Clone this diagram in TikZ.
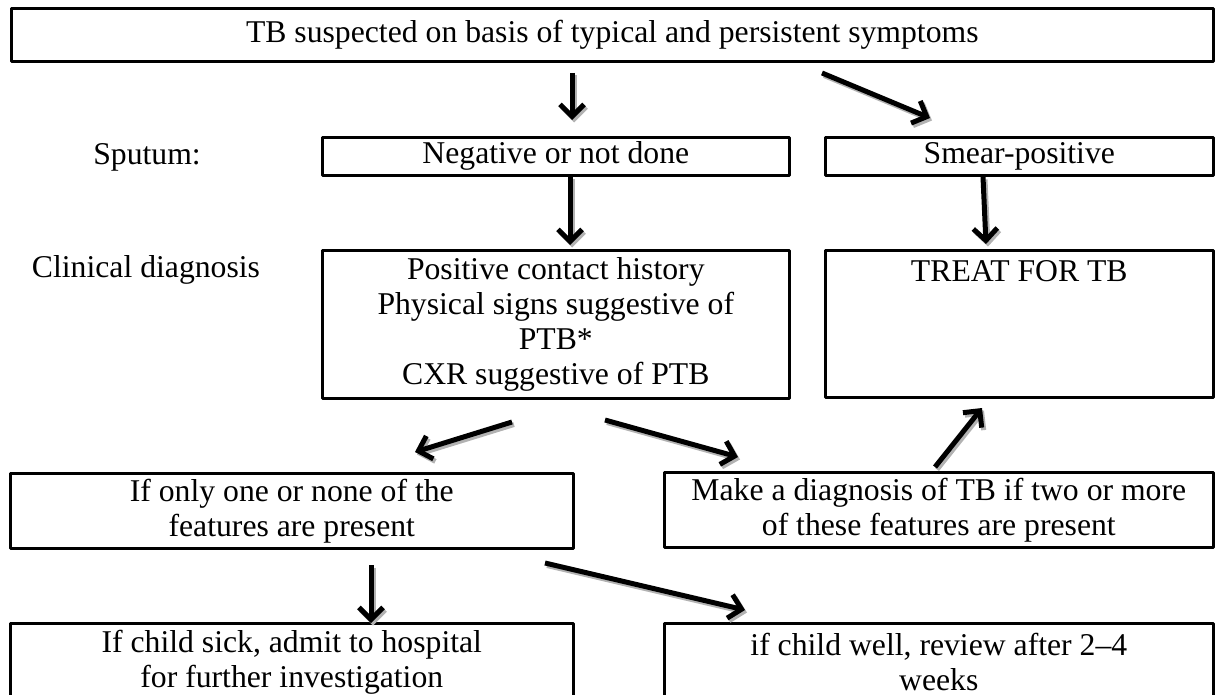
\documentclass[tikz,border=0pt]{standalone}
\usepackage{fontspec}
\setmainfont{Liberation Serif}
\usetikzlibrary{arrows.meta}
\tikzset{
  box/.style={draw, line width=2.6pt, anchor=north west, inner sep=0pt, align=center},
  flow/.style={line width=5pt, -{Straight Barb[length=12pt,width=24pt]}},
  flowshade/.style={flow, draw=gray!60, transform canvas={xshift=2pt,yshift=-2.5pt}}
}
\begin{document}
\begin{tikzpicture}[x=1pt,y=-1pt,font=\fontsize{31.7}{35}\selectfont,line join=round]
  \useasboundingbox (0,0) rectangle (1215,695);
  \clip (0,0) rectangle (1215,695);
  % boxes
  \node[box, minimum width=1202pt, minimum height=53pt] (top) at (10,7)
    {TB suspected on basis of typical and persistent symptoms};
  \node (sputum) at (147,157) {Sputum:};
  \node[box, minimum width=467pt, minimum height=38pt] (neg) at (321,136) {Negative or not done};
  \node[box, minimum width=388pt, minimum height=38pt] (smear) at (824,136) {Smear-positive};
  \node (clinical) at (146,270) {Clinical diagnosis};
  \node[box, minimum width=467pt, minimum height=148pt] (signs) at (321,249)
    {Positive contact history\\Physical signs suggestive of\\PTB*\\CXR suggestive of PTB};
  \node[box, minimum width=388pt, text height=31.5pt, text depth=115.5pt] (treat) at (824,249) {TREAT FOR TB};
  \node[box, minimum width=563pt, minimum height=75pt] (fewer) at (9,472)
    {If only one or none of the\\features are present};
  \node[box, minimum width=549pt, minimum height=75pt] (more) at (663,471)
    {Make a diagnosis of TB if two or more\\of these features are present};
  \node[box, minimum width=563pt, minimum height=77pt] (sick) at (9,622)
    {If child sick, admit to hospital\\for further investigation};
  \node[box, minimum width=549pt, minimum height=77pt] (well) at (663,622)
    {if child well, review after 2–4\\weeks};
  % arrow ends
  \coordinate (a1) at (572,73);   \coordinate (b1) at (572,120);
  \coordinate (a2) at (822,73);   \coordinate (b2) at (930,118);
  \coordinate (a3) at (570,177);  \coordinate (b3) at (570,245);
  \coordinate (a4) at (983,177);  \coordinate (b4) at (986,244);
  \coordinate (a5) at (512,422);  \coordinate (b5) at (415,452);
  \coordinate (a6) at (605,420);  \coordinate (b6) at (738,457);
  \coordinate (a7) at (935,467);  \coordinate (b7) at (982,408);
  \coordinate (a8) at (371,565);  \coordinate (b8) at (371,623);
  \coordinate (a9) at (545,563);  \coordinate (b9) at (745,610);
  \foreach \i in {1,...,9} {
    \draw[flowshade] (a\i) -- (b\i);
    \draw[flow] (a\i) -- (b\i);
  }
\end{tikzpicture}
\end{document}
